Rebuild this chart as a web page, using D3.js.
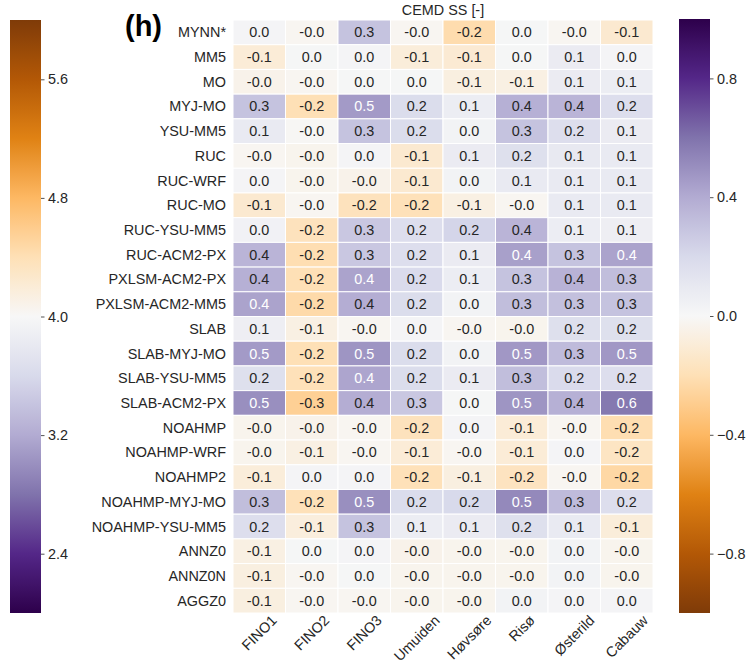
<!DOCTYPE html>
<html>
<head>
<meta charset="utf-8">
<script src="https://cdn.jsdelivr.net/npm/d3@7"></script>
<style>
  body { margin: 0; background: #fff; }
  text { font-family: "Liberation Sans", Arial, Helvetica, sans-serif; fill: #262626; }
</style>
</head>
<body>
<svg id="chart" width="755" height="665"></svg>
<script>
// Model configurations (rows) and measurement sites (columns)
const models = [
  "MYNN*", "MM5", "MO", "MYJ-MO", "YSU-MM5", "RUC", "RUC-WRF", "RUC-MO",
  "RUC-YSU-MM5", "RUC-ACM2-PX", "PXLSM-ACM2-PX", "PXLSM-ACM2-MM5", "SLAB",
  "SLAB-MYJ-MO", "SLAB-YSU-MM5", "SLAB-ACM2-PX", "NOAHMP", "NOAHMP-WRF",
  "NOAHMP2", "NOAHMP-MYJ-MO", "NOAHMP-YSU-MM5", "ANNZ0", "ANNZ0N", "AGGZ0"
];
const sites = ["FINO1", "FINO2", "FINO3", "Umuiden", "Høvsøre", "Risø", "Østerild", "Cabauw"];

// CEMD skill score, one row per model, one value per site
const cemdSS = [
  [ 0.02, -0.02,  0.30, -0.02, -0.22,  0.01, -0.02, -0.12],
  [-0.10,  0.01,  0.02, -0.09, -0.11,  0.01,  0.08,  0.02],
  [-0.04, -0.02,  0.01,  0.01, -0.07, -0.06,  0.08,  0.07],
  [ 0.30, -0.20,  0.46,  0.18,  0.07,  0.38,  0.36,  0.17],
  [ 0.09, -0.01,  0.30,  0.18,  0.03,  0.30,  0.17,  0.08],
  [-0.02, -0.03,  0.02, -0.12,  0.08,  0.16,  0.10,  0.09],
  [ 0.02, -0.03, -0.04, -0.12,  0.03,  0.09,  0.09,  0.09],
  [-0.12, -0.02, -0.18, -0.19, -0.06, -0.02,  0.09,  0.09],
  [ 0.04, -0.18,  0.28,  0.17,  0.22,  0.36,  0.07,  0.06],
  [ 0.36, -0.21,  0.28,  0.17,  0.08,  0.44,  0.30,  0.43],
  [ 0.38, -0.20,  0.43,  0.19,  0.07,  0.30,  0.37,  0.32],
  [ 0.43, -0.23,  0.39,  0.18,  0.03,  0.32,  0.31,  0.30],
  [ 0.06, -0.06, -0.02,  0.02, -0.02, -0.03,  0.16,  0.16],
  [ 0.46, -0.20,  0.48,  0.18,  0.03,  0.47,  0.33,  0.47],
  [ 0.16, -0.19,  0.42,  0.18,  0.08,  0.32,  0.19,  0.17],
  [ 0.50, -0.28,  0.39,  0.28,  0.01,  0.48,  0.38,  0.58],
  [-0.03, -0.04, -0.02, -0.18,  0.02, -0.10, -0.02, -0.21],
  [-0.03, -0.06, -0.02, -0.10, -0.02, -0.10,  0.02, -0.16],
  [-0.09,  0.02,  0.02, -0.19, -0.07, -0.17, -0.02, -0.24],
  [ 0.32, -0.19,  0.50,  0.18,  0.20,  0.52,  0.33,  0.17],
  [ 0.17, -0.08,  0.30,  0.07,  0.08,  0.16,  0.09, -0.09],
  [-0.06,  0.01,  0.02, -0.04, -0.03, -0.03,  0.03, -0.03],
  [-0.07, -0.02,  0.01, -0.03, -0.03, -0.03,  0.03, -0.03],
  [-0.07, -0.02, -0.02, -0.03, -0.03,  0.03,  0.02,  0.02]
];

// Colour bar value ranges (top, bottom) and ticks
const leftBarRange = [6.0, 2.0];
const leftBarTicks = [2.4, 3.2, 4.0, 4.8, 5.6];
const rightBarRange = [1.0, -1.0];
const rightBarTicks = [-0.8, -0.4, 0.0, 0.4, 0.8];

// Diverging purple-orange palette, brown end first
const puOrStops = ["#7f3b08", "#b35806", "#e08214", "#fdb863", "#fee0b6", "#f7f7f7",
                   "#d8daeb", "#b2abd2", "#8073ac", "#542788", "#2d004b"];
const puOr = d3.piecewise(d3.interpolateRgb, puOrStops);

const svg = d3.select("#chart");
const fontSize = 14.4;

const heat = { left: 233, right: 653, top: 20, bottom: 613 };
const x = d3.scaleBand().domain(sites).range([heat.left, heat.right]);
const y = d3.scaleBand().domain(models).range([heat.top, heat.bottom]);
const cellColor = d3.scaleSequential(puOr).domain([-1, 1]);

// Text colour on a cell follows the cell's relative luminance
function luminance(c) {
  const rgb = d3.rgb(c);
  const lin = v => { v /= 255; return v <= 0.03928 ? v / 12.92 : Math.pow((v + 0.055) / 1.055, 2.4); };
  return 0.2126 * lin(rgb.r) + 0.7152 * lin(rgb.g) + 0.0722 * lin(rgb.b);
}

const cells = [];
models.forEach((m, i) => sites.forEach((s, j) => cells.push({ m, s, v: cemdSS[i][j] })));

const g = svg.append("g");
g.selectAll("rect.cell").data(cells).join("rect")
  .attr("class", "cell")
  .attr("x", d => x(d.s))
  .attr("y", d => y(d.m))
  .attr("width", x.bandwidth())
  .attr("height", y.bandwidth())
  .attr("fill", d => cellColor(d.v))
  .attr("stroke", "#fff")
  .attr("stroke-width", 1);

g.selectAll("text.val").data(cells).join("text")
  .attr("class", "val")
  .attr("x", d => x(d.s) + x.bandwidth() / 2)
  .attr("y", d => y(d.m) + y.bandwidth() / 2)
  .attr("text-anchor", "middle")
  .attr("dominant-baseline", "central")
  .style("font-size", fontSize + "px")
  .style("fill", d => luminance(cellColor(d.v)) < 0.408 ? "#ffffff" : "#262626")
  .text(d => d.v.toFixed(1));

// Row labels
svg.append("g").selectAll("text").data(models).join("text")
  .attr("x", heat.left - 7)
  .attr("y", d => y(d) + y.bandwidth() / 2)
  .attr("text-anchor", "end")
  .attr("dominant-baseline", "central")
  .style("font-size", fontSize + "px")
  .text(d => d);

// Column labels, rotated 45 degrees, bounding box centred under each column
const colLabels = svg.append("g").selectAll("text").data(sites).join("text")
  .attr("text-anchor", "middle")
  .attr("dominant-baseline", "central")
  .style("font-size", fontSize + "px")
  .text(d => d);
colLabels.each(function (d) {
  const w = this.getComputedTextLength();
  const h = fontSize * 0.75;
  const half = (w + h) * Math.SQRT1_2 / 2;
  const cx = x(d) + x.bandwidth() / 2;
  d3.select(this).attr("transform", `translate(${cx},${heat.bottom + 1 + half}) rotate(-45)`);
});

// Title and panel letter
svg.append("text")
  .attr("x", (heat.left + heat.right) / 2)
  .attr("y", 15)
  .attr("text-anchor", "middle")
  .style("font-size", fontSize + "px")
  .text("CEMD SS [-]");

svg.append("text")
  .attr("x", 125)
  .attr("y", 36)
  .style("font-size", "29px")
  .style("font-weight", "bold")
  .style("fill", "#000")
  .text("(h)");

// Colour bars: position runs from the top value down to the bottom value,
// colour follows the same palette direction as the cells (brown low t, purple high t)
const defs = svg.append("defs");
function colorBar(id, x0, width, y0, y1, range, colourDomain, ticks, fmt) {
  const scale = d3.scaleLinear().domain(range).range([y0, y1]);
  const colour = d3.scaleSequential(puOr).domain(colourDomain);
  const grad = defs.append("linearGradient").attr("id", id)
    .attr("x1", 0).attr("y1", 0).attr("x2", 0).attr("y2", 1);
  d3.range(0, 1.0001, 0.025).forEach(t => {
    grad.append("stop").attr("offset", t)
      .attr("stop-color", colour(range[0] + (range[1] - range[0]) * t));
  });
  svg.append("rect")
    .attr("x", x0).attr("y", y0)
    .attr("width", width).attr("height", y1 - y0)
    .attr("fill", `url(#${id})`);
  const axis = d3.axisRight(scale).tickValues(ticks).tickSize(3.5).tickPadding(3.5).tickFormat(fmt);
  const ag = svg.append("g").attr("transform", `translate(${x0 + width},0)`).call(axis);
  ag.select(".domain").remove();
  ag.selectAll(".tick line").attr("stroke", "#262626").attr("stroke-width", 0.8);
  ag.selectAll(".tick text")
    .attr("fill", "#262626")
    .style("font-size", fontSize + "px")
    .style("font-family", '"Liberation Sans", Arial, sans-serif');
}
colorBar("leftBar", 10, 31, 20, 613, leftBarRange, [6.0, 2.0], leftBarTicks, d => d.toFixed(1));
colorBar("rightBar", 679, 31, 19, 613, rightBarRange, [-1.0, 1.0], rightBarTicks, d3.format(".1f"));
</script>
</body>
</html>
